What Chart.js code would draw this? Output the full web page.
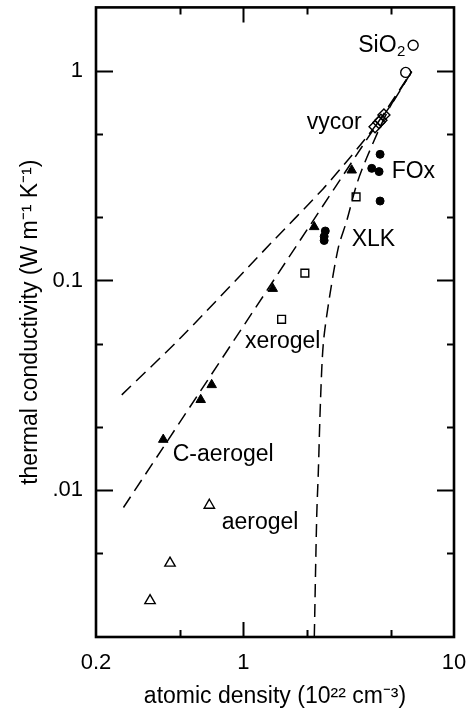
<!DOCTYPE html>
<html><head><meta charset="utf-8">
<script src="https://cdn.jsdelivr.net/npm/chart.js@4/dist/chart.umd.min.js"></script>
<style>html,body{margin:0;padding:0;background:#fff;}</style>
</head><body>
<canvas id="c" width="472" height="710" style="width:472px;height:710px;display:block"></canvas>
<script>
// ---- data (atomic density 1e22 cm^-3, thermal conductivity W/m/K) ----
const sio2X = [5.9, 6.4];
const sio2Y = [0.98, 1.32];
const vycorX = [4.22, 4.4, 4.5, 4.65];
const vycorY = [0.54, 0.565, 0.58, 0.615];
const foxX = [4.46, 4.07, 4.41, 4.46];
const foxY = [0.399, 0.342, 0.330, 0.239];
const xlkX = [2.45, 2.42, 2.42];
const xlkY = [0.172, 0.162, 0.155];
const cAerogelX = [0.417, 0.628, 0.708, 1.38, 2.17, 3.27];
const cAerogelY = [0.01745, 0.0270, 0.0318, 0.0914, 0.180, 0.335];
const xerogelX = [1.52, 1.96, 3.43];
const xerogelY = [0.0653, 0.1083, 0.250];
const aerogelX = [0.361, 0.449, 0.690];
const aerogelY = [0.00298, 0.0045, 0.00849];

// dashed model curves
const curve1X = [0.265, 0.510, 1.34, 2.39, 3.11, 3.78, 4.97, 6.3];
const curve1Y = [0.0285, 0.0539, 0.149, 0.273, 0.371, 0.471, 0.675, 0.99];
const curve2X = [0.270, 6.3];
const curve2Y = [0.00828, 0.99];
const curve3X = [2.173, 2.231, 2.270, 2.326, 2.398, 2.552, 2.825, 3.097, 3.454, 3.853, 4.9, 6.3];
const curve3Y = [0.002, 0.00753, 0.01217, 0.0270, 0.0501, 0.0804, 0.1434, 0.1925, 0.2872, 0.384, 0.655, 0.99];

// axes
const xTickValues = [0.2, 1, 10];
const xTickLabels = ['0.2', '1', '10'];
const xMinorTicks = [0.5, 2, 5];
const yTickValues = [0.01, 0.1, 1];
const yTickLabels = ['.01', '0.1', '1'];
const yMinorTicks = [0.005, 0.02, 0.05, 0.2, 0.5];

// text labels (anchored in data units: left edge, baseline)
const labelTexts = ['vycor', 'FOx', 'XLK', 'xerogel', 'C-aerogel', 'aerogel'];
const labelX = [2.0, 5.06, 3.27, 1.019, 0.4624, 0.790];
const labelY = [0.524, 0.309, 0.1465, 0.0475, 0.01377, 0.00653];
const sio2LabelX = 3.51, sio2LabelY = 1.23;

const zip = (xs, ys) => xs.map((x, i) => ({x, y: ys[i]}));
const FONT = "'Liberation Sans', Arial, Helvetica, sans-serif";

const pointDs = (label, xs, ys, style, r, filled) => ({
  type: 'scatter', label, data: zip(xs, ys), pointStyle: style, pointRadius: r,
  pointBackgroundColor: filled ? '#000' : 'rgba(0,0,0,0)', pointBorderColor: '#000',
  pointBorderWidth: filled ? 1 : 1.4, showLine: false, order: 1
});
const lineDs = (label, xs, ys) => ({
  type: 'line', label, data: zip(xs, ys), borderColor: '#000', borderWidth: 1.5,
  borderDash: [13, 7], pointRadius: 0, fill: false, tension: 0.3, order: 2
});

const boxTicks = {
  id: 'boxTicks',
  afterDraw(chart) {
    const {ctx, chartArea: a, scales: {x, y}} = chart;
    ctx.save();
    ctx.strokeStyle = '#000';
    ctx.lineWidth = 2;
    const maj = 15, min = 7;
    xTickValues.concat(xMinorTicks).forEach(v => {
      const px = Math.round(x.getPixelForValue(v)) + 0.5;
      if (px <= a.left + 1 || px >= a.right - 1) return;
      const L = xTickValues.includes(v) ? maj : min;
      ctx.beginPath();
      ctx.moveTo(px, a.bottom); ctx.lineTo(px, a.bottom - L);
      ctx.moveTo(px, a.top); ctx.lineTo(px, a.top + L);
      ctx.stroke();
    });
    yTickValues.concat(yMinorTicks).forEach(v => {
      const py = Math.round(y.getPixelForValue(v)) + 0.5;
      if (py <= a.top + 1 || py >= a.bottom - 1) return;
      const L = yTickValues.includes(v) ? maj + 2 : min;
      ctx.beginPath();
      ctx.moveTo(a.left, py); ctx.lineTo(a.left + L, py);
      ctx.moveTo(a.right, py); ctx.lineTo(a.right - L, py);
      ctx.stroke();
    });
    ctx.lineWidth = 2.6;
    ctx.strokeRect(a.left, a.top, a.right - a.left, a.bottom - a.top);

    // text labels
    ctx.fillStyle = '#000';
    ctx.font = '23px ' + FONT;
    ctx.textBaseline = 'alphabetic';
    ctx.textAlign = 'left';
    labelTexts.forEach((t, i) => {
      ctx.fillText(t, x.getPixelForValue(labelX[i]), y.getPixelForValue(labelY[i]));
    });
    const sx = x.getPixelForValue(sio2LabelX), sy = y.getPixelForValue(sio2LabelY);
    ctx.fillText('SiO', sx, sy);
    const w = ctx.measureText('SiO').width;
    ctx.font = '15px ' + FONT;
    ctx.fillText('2', sx + w + 0.5, sy + 4);
    ctx.restore();
  }
};

new Chart(document.getElementById('c'), {
  type: 'scatter',
  data: {
    datasets: [
      lineDs('curve1', curve1X, curve1Y),
      lineDs('curve2', curve2X, curve2Y),
      lineDs('curve3', curve3X, curve3Y),
      pointDs('SiO2', sio2X, sio2Y, 'circle', 5, false),
      pointDs('vycor', vycorX, vycorY, 'rectRot', 6, false),
      pointDs('FOx', foxX, foxY, 'circle', 4, true),
      pointDs('XLK', xlkX, xlkY, 'circle', 4, true),
      pointDs('C-aerogel', cAerogelX, cAerogelY, 'triangle', 5.5, true),
      pointDs('xerogel', xerogelX, xerogelY, 'rect', 5.5, false),
      pointDs('aerogel', aerogelX, aerogelY, 'triangle', 6, false)
    ]
  },
  options: {
    responsive: false, animation: false, devicePixelRatio: 1,
    layout: {padding: {top: 5, right: 18, left: 0, bottom: 0}},
    plugins: {legend: {display: false}, tooltip: {enabled: false}},
    scales: {
      x: {
        type: 'logarithmic', min: 0.2, max: 10,
        afterBuildTicks: s => { s.ticks = xTickValues.map(v => ({value: v})); },
        afterFit: s => { s.height = 73; s.paddingLeft = 0; s.paddingRight = 0; },
        ticks: {callback: (v, i) => xTickLabels[i], color: '#000', font: {family: FONT, size: 22},
                padding: 13, maxRotation: 0, autoSkip: false},
        grid: {display: false, drawTicks: false}, border: {display: false},
        title: {display: true, text: 'atomic density (10²² cm⁻³)', color: '#000',
                font: {family: FONT, size: 23}, padding: {top: 0, bottom: 0}}
      },
      y: {
        type: 'logarithmic', min: 0.002, max: 2,
        afterBuildTicks: s => { s.ticks = yTickValues.map(v => ({value: v})); },
        afterFit: s => { s.width = 96; s.paddingTop = 0; s.paddingBottom = 0; },
        ticks: {callback: (v, i) => yTickLabels[i], color: '#000', font: {family: FONT, size: 22},
                padding: 13, autoSkip: false},
        grid: {display: false, drawTicks: false}, border: {display: false},
        title: {display: true, text: 'thermal conductivity (W m⁻¹ K⁻¹)', color: '#000',
                font: {family: FONT, size: 23}, padding: {top: 17, bottom: 0}}
      }
    }
  },
  plugins: [boxTicks]
});
</script>
</body></html>
